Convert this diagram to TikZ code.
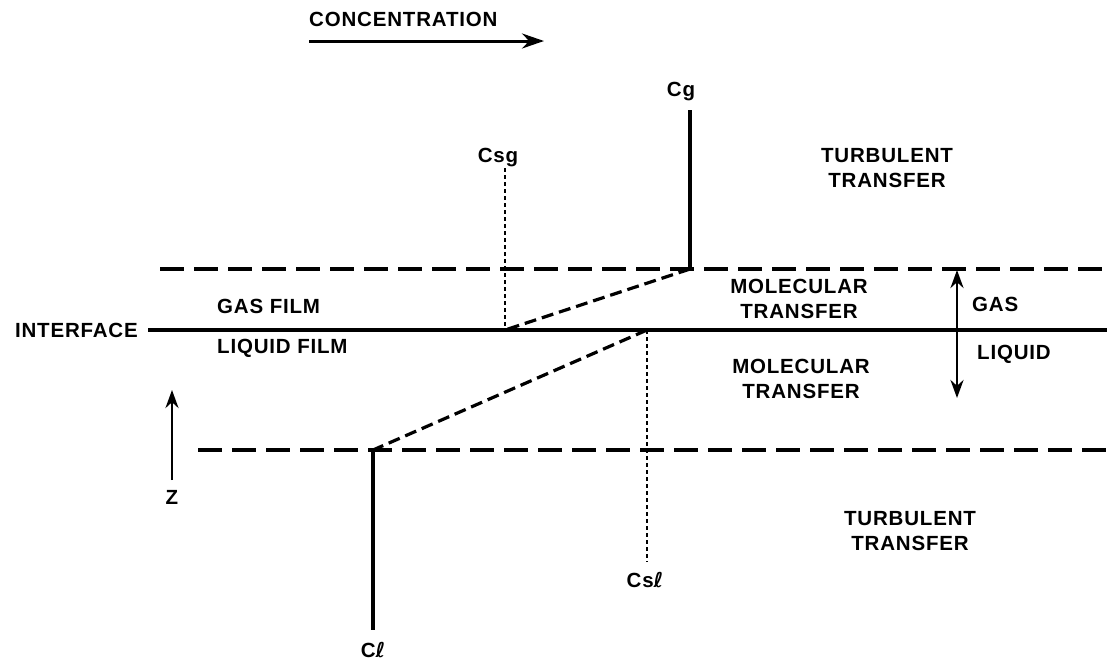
\documentclass[tikz,border=0pt]{standalone}
\usepackage{fontspec}
\setmainfont{Liberation Sans}[LetterSpace=4]
\newfontfamily\ellfont{DejaVu Sans}
\usetikzlibrary{arrows.meta}
\begin{document}
\begin{tikzpicture}[x=1pt,y=-1pt,
  lbl/.style={font=\fontsize{20.5}{25}\selectfont\bfseries, inner sep=0pt, align=center},
  solidline/.style={line width=3.2pt},
  filmline/.style={line width=3.4pt, dash pattern=on 24pt off 10pt},
  profile/.style={line width=3.2pt, dash pattern=on 12pt off 6pt},
  dotline/.style={line width=2.6pt, dash pattern=on 4pt off 3pt},
  arr/.style={line width=3pt, -{Stealth[length=22pt,width=15pt]}},
  zarr/.style={line width=2.8pt, -{Stealth[length=18pt,width=13pt]}},
  darr/.style={line width=2.8pt, {Stealth[length=18pt,width=13pt]}-{Stealth[length=18pt,width=13pt]}}]
\useasboundingbox (0,0) rectangle (1107,665);
% title arrow
\node[lbl, anchor=west] (conc) at (309,19) {CONCENTRATION};
\coordinate (ca) at (309,41);
\coordinate (cb) at (544,41);
\draw[arr] (ca) -- (cb);
% horizontal lines
\coordinate (ul) at (160,269); \coordinate (ur) at (1107,269);
\coordinate (il) at (148,330); \coordinate (ir) at (1107,330);
\coordinate (ll) at (198,450); \coordinate (lr) at (1107,450);
\draw[filmline] (ul) -- (ur);
\draw[solidline] (il) -- (ir);
\draw[filmline] (ll) -- (lr);
\node[lbl, anchor=east] (intf) at (138,330) {INTERFACE};
\node[lbl, anchor=west] (gf) at (217,306) {GAS FILM};
\node[lbl, anchor=west] (lf) at (217,348) {LIQUID FILM};
% concentration profile
\coordinate (cgtop) at (690,110);
\coordinate (cgb) at (690,269);
\coordinate (csg) at (505,330);
\coordinate (csgtop) at (505,168);
\coordinate (csl) at (647,330);
\coordinate (csltop) at (647,562);
\coordinate (cl) at (373,450);
\coordinate (clb) at (373,630);
\draw[solidline] (cgtop) -- (cgb);
\draw[profile] (cgb) -- (csg);
\draw[profile] (csl) -- (cl);
\draw[solidline] (cl) -- (clb);
\draw[dotline] (csgtop) -- (csg);
\draw[dotline] (csl) -- (csltop);
\node[lbl] (cg) at (681,92) {Cg};
\node[lbl] (csgl) at (498,158) {Csg};
\node[lbl] (csll) at (645,580) {Cs{\ellfont ℓ}};
\node[lbl] (cll) at (373,650) {C{\ellfont ℓ}};
% text blocks
\node[lbl] (tt1) at (887,168) {TURBULENT\\TRANSFER};
\node[lbl] (mt1) at (799,299) {MOLECULAR\\TRANSFER};
\node[lbl] (mt2) at (801,379) {MOLECULAR\\TRANSFER};
\node[lbl] (tt2) at (910,531) {TURBULENT\\TRANSFER};
% gas/liquid arrow
\coordinate (gl1) at (957,270);
\coordinate (gl2) at (957,398);
\draw[darr] (gl2) -- (gl1);
\node[lbl, anchor=west] (gas) at (972,304) {GAS};
\node[lbl, anchor=west] (liq) at (977,354) {LIQUID};
% Z arrow
\coordinate (z1) at (172,480);
\coordinate (z2) at (172,390);
\draw[zarr] (z1) -- (z2);
\node[lbl] (z) at (172,497) {Z};
\end{tikzpicture}
\end{document}
